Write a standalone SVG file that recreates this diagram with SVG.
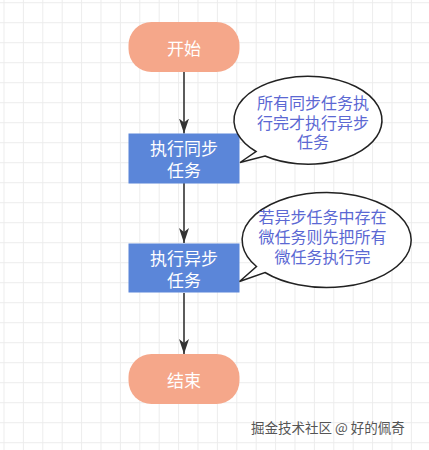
<svg xmlns="http://www.w3.org/2000/svg" width="429" height="450" viewBox="0 0 429 450">
<defs>
<pattern id="grid" patternUnits="userSpaceOnUse" x="3.5" y="2.2" width="19.4" height="20">
<path d="M0.5 0V20M0 0.5H19.4" fill="none" stroke="#ececec" stroke-width="1"/>
</pattern>
<marker id="arr" viewBox="0 0 15 10" refX="15" refY="5" markerWidth="15" markerHeight="10" markerUnits="userSpaceOnUse" orient="auto">
<path d="M0 0L15 5L0 10L4 5Z" fill="#333"/>
</marker>
<style>
.term{fill:#f5a78a;}
.proc{fill:#5b86d9;}
.nt{font-family:"Noto Sans CJK SC","Noto Sans",sans-serif;font-size:17px;fill:#fff;text-anchor:middle;dominant-baseline:central;}
.bubble{fill:#fff;stroke:#222;stroke-width:1.5;}
.bt{font-family:"Noto Sans CJK SC","Noto Sans",sans-serif;font-size:16px;fill:#5b68d3;text-anchor:middle;dominant-baseline:central;}
.edge{fill:none;stroke:#333;stroke-width:1.6;marker-end:url(#arr);}
.wm{font-family:"Noto Sans CJK SC","Noto Sans",sans-serif;font-size:13.5px;fill:#555;}
</style>
</defs>
<rect width="429" height="450" fill="#fff"/>
<rect width="429" height="450" fill="url(#grid)"/>
<g id="connectors">
<path class="edge" d="M184 72V133.5"/>
<path class="edge" d="M184 183V243"/>
<path class="edge" d="M184 293V354"/>
</g>
<g id="start">
<rect class="term" x="128.5" y="22" width="111" height="50" rx="23"/>
<text class="nt" x="184" y="47">开始</text>
</g>
<g id="sync">
<rect class="proc" x="128.5" y="133.5" width="111" height="50"/>
<text class="nt" x="184" y="147">执行同步</text>
<text class="nt" x="184" y="169">任务</text>
</g>
<g id="async">
<rect class="proc" x="128.5" y="243.5" width="111" height="49"/>
<text class="nt" x="184" y="257">执行异步</text>
<text class="nt" x="184" y="279">任务</text>
</g>
<g id="end">
<rect class="term" x="128.5" y="354" width="111" height="50" rx="23"/>
<text class="nt" x="184" y="379">结束</text>
</g>
<g id="note1">
<path class="bubble" d="M256 151.5 A74 44 0 1 1 265 156 L240 162.5 Z"/>
<text class="bt" x="313" y="101.5">所有同步任务执</text>
<text class="bt" x="313" y="121.5">行完才执行异步</text>
<text class="bt" x="313" y="141">任务</text>
</g>
<g id="note2">
<path class="bubble" d="M256.5 266.5 A84.5 47.5 0 1 1 265 272.5 L239.5 281.5 Z"/>
<text class="bt" x="322.5" y="215.5">若异步任务中存在</text>
<text class="bt" x="322.5" y="236">微任务则先把所有</text>
<text class="bt" x="322.5" y="256">微任务执行完</text>
</g>
<text class="wm" x="251" y="433">掘金技术社区 @ 好的佩奇</text>
</svg>
